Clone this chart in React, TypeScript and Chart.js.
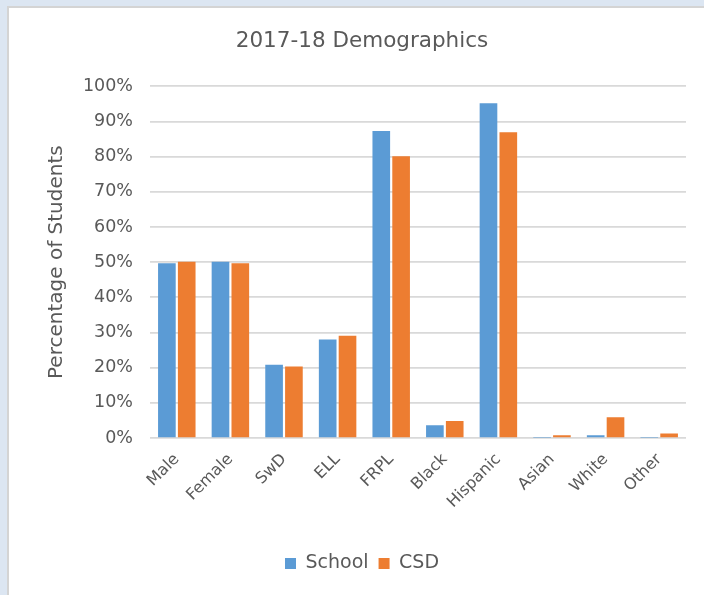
import React, { useEffect, useRef } from "react";
import { Chart, registerables } from "chart.js";

Chart.register(...registerables);

const categories = ["Male", "Female", "SwD", "ELL", "FRPL", "Black", "Hispanic", "Asian", "White", "Other"];
const schoolValues = [49.7, 50.1, 20.8, 28.0, 87.3, 3.6, 95.2, 0.1, 0.8, 0.1];
const csdValues = [50.1, 49.7, 20.3, 29.1, 80.1, 4.8, 86.9, 0.8, 5.9, 1.3];
const seriesNames = ["School", "CSD"];
const titleText = "2017-18 Demographics";
const yTitle = "Percentage of Students";

const FONT = "'DejaVu Sans', sans-serif";
const TEXT = "#595959";

export default function App() {
  const ref = useRef<HTMLCanvasElement | null>(null);
  useEffect(() => {
    if (!ref.current) return;
    const chart = new Chart(ref.current, {
      type: "bar",
      data: {
        labels: categories,
        datasets: [
          {
            label: seriesNames[0],
            data: schoolValues,
            backgroundColor: "#5B9BD5",
            categoryPercentage: 0.74,
            barPercentage: 0.89,
          },
          {
            label: seriesNames[1],
            data: csdValues,
            backgroundColor: "#ED7D31",
            categoryPercentage: 0.74,
            barPercentage: 0.89,
          },
        ],
      },
      options: {
        animation: false,
        responsive: false,
        maintainAspectRatio: false,
        layout: { padding: { top: 0, left: 38, right: 18, bottom: 12 } },
        plugins: {
          title: {
            display: true,
            text: titleText,
            color: TEXT,
            font: { family: FONT, size: 21.5, weight: "normal" },
            padding: { top: 28.1, bottom: 32.4 },
          },
          legend: {
            position: "bottom",
            labels: {
              color: TEXT,
              font: { family: FONT, size: 19 },
              boxWidth: 11,
              boxHeight: 11,
              padding: 10,
            },
          },
          tooltip: { enabled: false },
        },
        scales: {
          x: {
            grid: { display: false },
            border: { display: false },
            ticks: {
              color: TEXT,
              font: { family: FONT, size: 16 },
              minRotation: 45,
              maxRotation: 45,
              padding: 4,
            },
            afterFit: (s: any) => {
              s.height = 106;
            },
          },
          y: {
            min: 0,
            max: 100,
            grid: { color: "#d9d9d9", lineWidth: 1.75, drawTicks: false },
            border: { display: false },
            ticks: {
              stepSize: 10,
              color: TEXT,
              font: { family: FONT, size: 17.5 },
              padding: 17,
              callback: (v: any) => v + "%",
            },
            title: {
              display: true,
              text: yTitle,
              color: TEXT,
              font: { family: FONT, size: 20 },
              padding: { top: 7, bottom: 0 },
            },
            afterFit: (s: any) => {
              s.width = 112;
            },
          },
        },
      },
    });
    return () => chart.destroy();
  }, []);

  return (
    <div style={{ position: "fixed", left: 0, top: 0, width: 704, height: 595, background: "#dce6f2", overflow: "hidden" }}>
      <div
        style={{
          position: "absolute",
          left: 7,
          top: 6,
          width: 704,
          height: 600,
          background: "#ffffff",
          borderLeft: "2px solid #d4d4d4",
          borderTop: "2px solid #d4d4d4",
          boxSizing: "border-box",
        }}
      />
      <canvas ref={ref} width={704} height={595} style={{ position: "absolute", left: 0, top: 0 }} />
    </div>
  );
}
